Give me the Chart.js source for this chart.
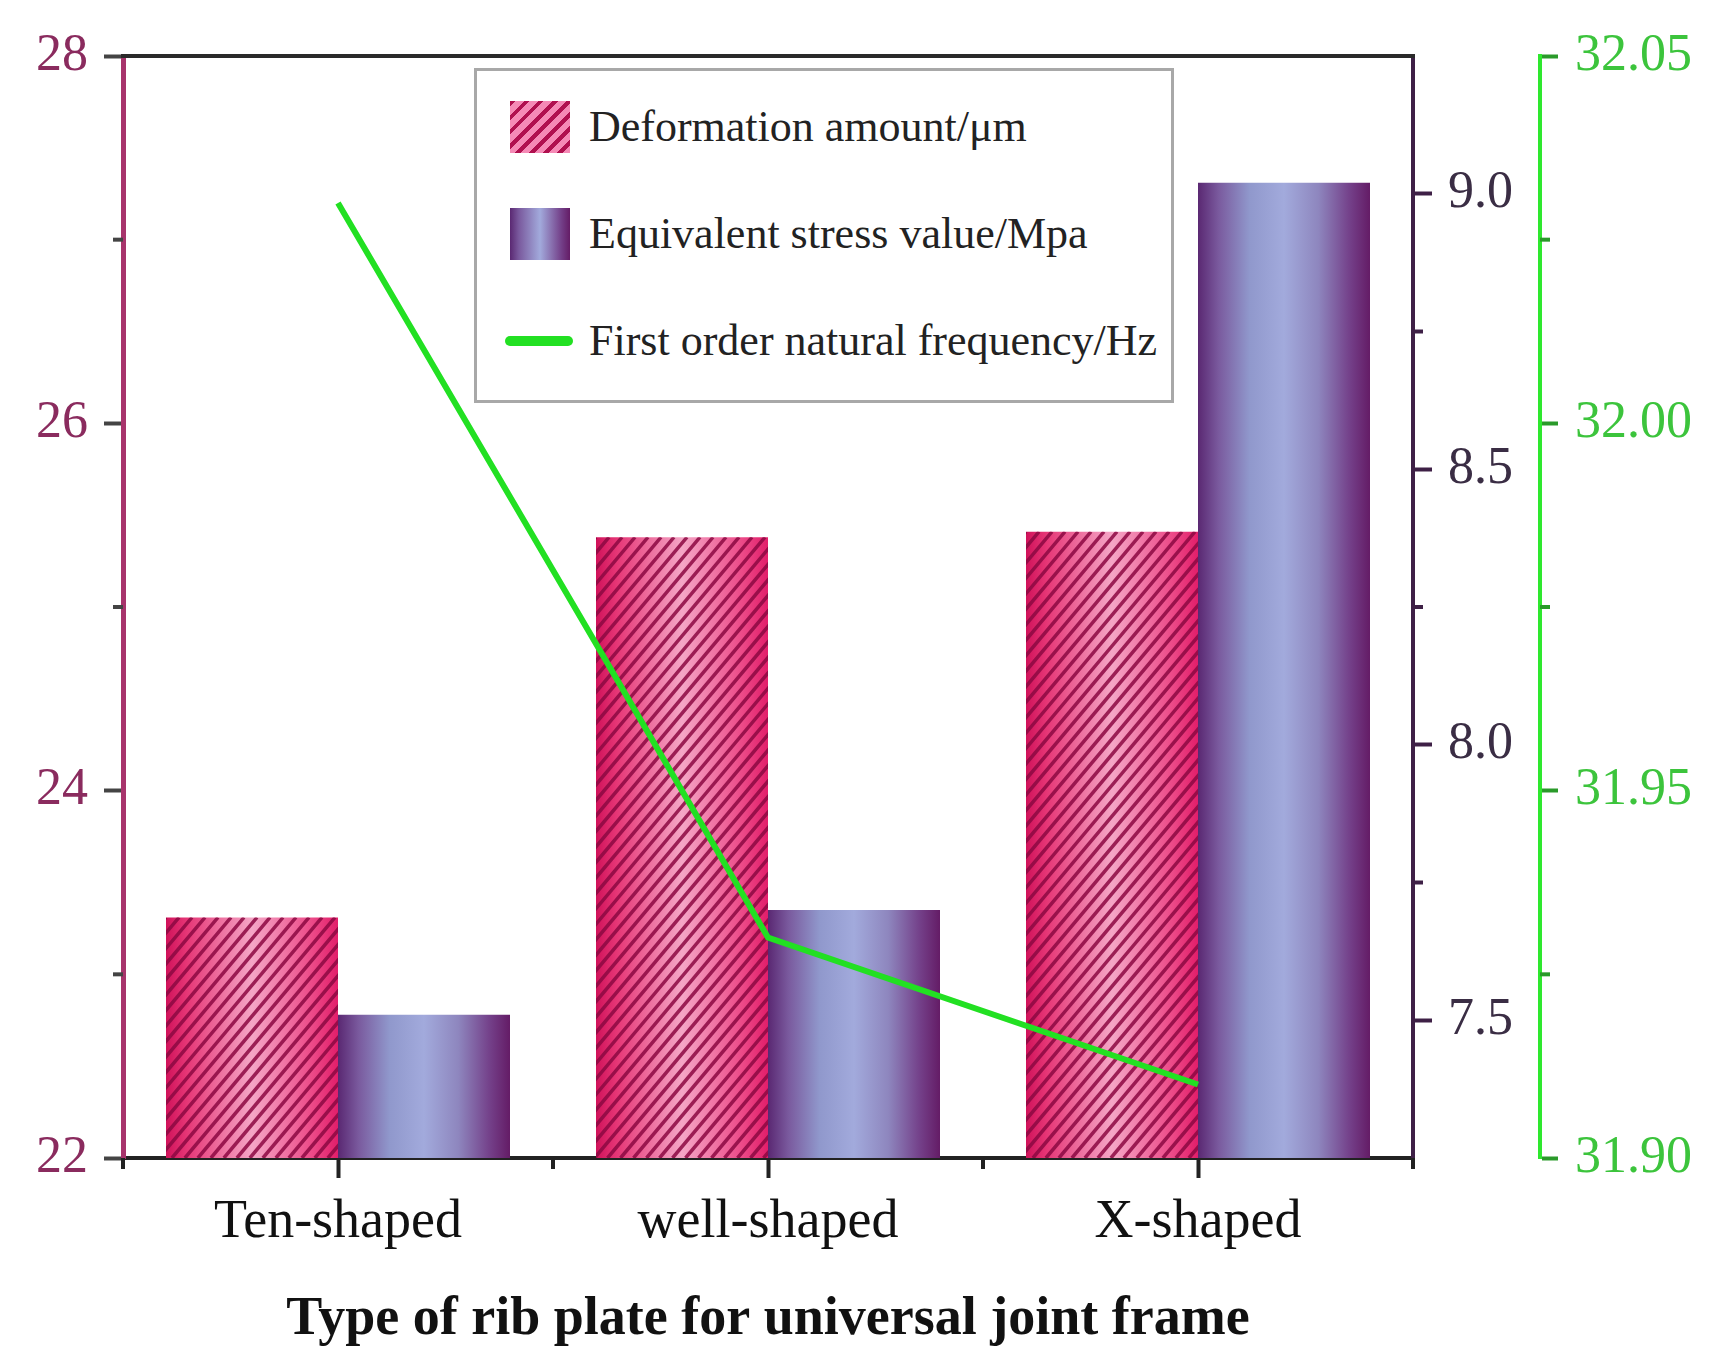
<!DOCTYPE html>
<html>
<head>
<meta charset="utf-8">
<title>Type of rib plate for universal joint frame</title>
<script src="https://cdn.jsdelivr.net/npm/chart.js@4.4.1/dist/chart.umd.min.js"></script>
<style>
  html, body { margin: 0; padding: 0; background: #fff; }
  #wrap { position: relative; width: 1720px; height: 1371px; }
  #legend {
    position: absolute; left: 474px; top: 68px; width: 694px; height: 329px;
    border: 3px solid #a8a8a8; background: #fff;
    font-family: 'Liberation Serif', 'Times New Roman', serif; font-size: 44px; color: #222;
  }
  #legend .row { position: absolute; left: 0; height: 60px; }
  #legend .sw { position: absolute; }
  #legend .txt { position: absolute; left: 112px; white-space: nowrap; line-height: 60px; }
</style>
</head>
<body>
<div id="wrap">
  <canvas id="ribChart"></canvas>
  <div id="legend"></div>
</div>
<script>
// categories and values
const categories = ['Ten-shaped', 'well-shaped', 'X-shaped'];
const seriesLabels = ['Deformation amount/\u03bcm', 'Equivalent stress value/Mpa', 'First order natural frequency/Hz'];
const deformation = [23.31, 25.38, 25.41];   // left axis, µm
const stress = [7.51, 7.70, 9.02];           // right axis, MPa
const frequency = [32.03, 31.93, 31.91];     // far right axis, Hz

// axis tick values
const leftTicks = [22, 24, 26, 28];
const leftMinor = [23, 25, 27];
const stressTicks = [7.5, 8.0, 8.5, 9.0];
const stressMinor = [7.75, 8.25, 8.75];
const freqTicks = [31.90, 31.95, 32.00, 32.05];
const freqMinor = [31.925, 31.975, 32.025];
const xMinor = [-0.5, 0.5, 1.5, 2.5];

const CAT_PCT = 0.8;
const SERIF = "'Liberation Serif', 'Times New Roman', serif";
const PINK_STOPS = [[0, '#d0125a'], [0.12, '#e63676'], [0.5, '#f5a6c6'], [0.85, '#ec4a88'], [1, '#e21e6a']];
const PURPLE_STOPS = [[0, '#5a2872'], [0.12, '#7a5a9e'], [0.3, '#9098cc'], [0.5, '#a2aadc'], [0.7, '#8e86be'], [0.88, '#74418a'], [1, '#641c66']];
const LEFT_COL = '#a8346c';
const RIGHT_COL = '#3e2046';
const GREEN_COL = '#22e022';

Chart.defaults.font.family = SERIF;

// horizontal gradient across one bar, from the category scale
function barGradient(context, stops) {
  const chart = context.chart;
  const xs = chart.scales.x;
  if (!chart.chartArea || !xs) return stops[2][1];
  const step = xs.getPixelForValue(1) - xs.getPixelForValue(0);
  if (!isFinite(step) || step <= 0) return stops[2][1];
  const w = step * CAT_PCT / 2;
  const c = xs.getPixelForValue(context.dataIndex);
  const left = context.datasetIndex === 0 ? c - w : c;
  const g = chart.ctx.createLinearGradient(left, 0, left + w, 0);
  stops.forEach(([o, col]) => g.addColorStop(o, col));
  return g;
}

// diagonal hatching over the deformation bars
const hatchPlugin = {
  id: 'hatch',
  afterDatasetDraw(chart, args) {
    if (args.index !== 0) return;
    const ctx = chart.ctx;
    const bottom = chart.scales.y.getPixelForValue(chart.scales.y.min);
    args.meta.data.forEach(bar => {
      const p = bar.getProps(['x', 'y', 'width'], true);
      const left = p.x - p.width / 2;
      const top = p.y;
      const h = bottom - top;
      const run = h * 0.84;
      ctx.save();
      ctx.beginPath();
      ctx.rect(left, top, p.width, h);
      ctx.clip();
      ctx.strokeStyle = 'rgba(140, 8, 66, 0.85)';
      ctx.lineWidth = 3.5;
      ctx.beginPath();
      for (let s = -run; s < p.width + 13; s += 13) {
        ctx.moveTo(left + s, top + h);
        ctx.lineTo(left + s + run, top);
      }
      ctx.stroke();
      ctx.restore();
    });
  }
};

// minor ticks + top frame line
const framePlugin = {
  id: 'frame',
  afterDraw(chart) {
    const ctx = chart.ctx;
    const a = chart.chartArea;
    const s = chart.scales;
    ctx.save();
    ctx.lineWidth = 4;
    const yMinor = [
      [s.y, leftMinor, a.left, -1, '#444'],
      [s.y1, stressMinor, s.y1.left, 1, RIGHT_COL],
      [s.y2, freqMinor, s.y2.left, 1, '#2a9a2a']
    ];
    yMinor.forEach(([sc, vals, x0, dir, col]) => {
      ctx.strokeStyle = col;
      vals.forEach(v => {
        const y = sc.getPixelForValue(v);
        ctx.beginPath();
        ctx.moveTo(x0, y);
        ctx.lineTo(x0 + dir * 10, y);
        ctx.stroke();
      });
    });
    ctx.strokeStyle = '#222';
    xMinor.forEach(v => {
      const x = s.x.getPixelForValue(v);
      ctx.beginPath();
      ctx.moveTo(x, a.bottom);
      ctx.lineTo(x, a.bottom + 11);
      ctx.stroke();
    });
    ctx.strokeStyle = '#2a2a2a';
    ctx.beginPath();
    ctx.moveTo(a.left - 2, a.top);
    ctx.lineTo(s.y1.left + 2, a.top);
    ctx.stroke();
    ctx.restore();
  }
};

function fixedTicks(values) {
  return scale => { scale.ticks = values.map(v => ({ value: v })); };
}

const chart = new Chart(document.getElementById('ribChart'), {
  type: 'bar',
  data: {
    labels: categories,
    datasets: [
      {
        label: seriesLabels[0],
        data: deformation,
        yAxisID: 'y',
        backgroundColor: c => barGradient(c, PINK_STOPS),
        borderWidth: 0,
        categoryPercentage: CAT_PCT,
        barPercentage: 1.0,
        order: 1
      },
      {
        label: seriesLabels[1],
        data: stress,
        yAxisID: 'y1',
        backgroundColor: c => barGradient(c, PURPLE_STOPS),
        borderWidth: 0,
        categoryPercentage: CAT_PCT,
        barPercentage: 1.0,
        order: 2
      },
      {
        type: 'line',
        label: seriesLabels[2],
        data: frequency,
        yAxisID: 'y2',
        borderColor: GREEN_COL,
        borderWidth: 6,
        pointRadius: 0,
        tension: 0,
        order: 0
      }
    ]
  },
  options: {
    responsive: true,
    maintainAspectRatio: false,
    animation: false,
    layout: { padding: { top: 56, left: 0, right: 0, bottom: 0 } },
    plugins: { legend: { display: false }, tooltip: { enabled: false } },
    scales: {
      x: {
        offset: true,
        grid: { display: true, drawOnChartArea: false, offset: false, tickLength: 20, tickWidth: 4, tickColor: '#222' },
        border: { display: true, color: '#222', width: 4 },
        ticks: { color: '#111', font: { size: 54, family: SERIF }, padding: 12, maxRotation: 0 },
        title: {
          display: true,
          text: 'Type of rib plate for universal joint frame',
          color: '#111',
          font: { size: 54, weight: 'bold', family: SERIF },
          padding: { top: 0, bottom: 19 }
        },
        afterFit: s => { s.height = 213; }
      },
      y: {
        position: 'left',
        min: 22, max: 28,
        afterBuildTicks: fixedTicks(leftTicks),
        grid: { drawOnChartArea: false, tickLength: 19, tickWidth: 4, tickColor: '#444' },
        border: { display: true, color: LEFT_COL, width: 5 },
        ticks: { color: '#8a2b5e', font: { size: 52, family: SERIF }, padding: 16 },
        afterFit: s => { s.width = 123; }
      },
      y1: {
        position: 'right',
        min: 7.25, max: 9.25,
        afterBuildTicks: fixedTicks(stressTicks),
        grid: { drawOnChartArea: false, tickLength: 19, tickWidth: 4, tickColor: RIGHT_COL },
        border: { display: true, color: RIGHT_COL, width: 4 },
        ticks: { color: '#3a2d44', font: { size: 52, family: SERIF }, padding: 16, callback: v => Number(v).toFixed(1) },
        afterFit: s => { s.width = 127; }
      },
      y2: {
        position: 'right',
        min: 31.90, max: 32.05,
        afterBuildTicks: fixedTicks(freqTicks),
        grid: { drawOnChartArea: false, tickLength: 18, tickWidth: 4, tickColor: '#2a9a2a' },
        border: { display: true, color: '#2ee82e', width: 4 },
        ticks: { color: '#3cc43c', font: { size: 52, family: SERIF }, padding: 17, callback: v => Number(v).toFixed(2) },
        afterFit: s => { s.width = 180; }
      }
    }
  },
  plugins: [hatchPlugin, framePlugin]
});

// legend box built from the dataset labels
const legendEl = document.getElementById('legend');
const swatches = [
  'left:33px; top:2px; width:60px; height:52px; background: repeating-linear-gradient(135deg, #b0104f 0 4px, #f58ab6 4px 10px);',
  'left:33px; top:2px; width:60px; height:52px; background: linear-gradient(to right, #5a2872, #7a5a9e 15%, #a2aadc 50%, #74418a 85%, #641c66);',
  'left:28px; top:23px; width:68px; height:10px; border-radius:5px; background:' + GREEN_COL + ';'
];
const rowTops = [28, 135, 242];
seriesLabels.forEach((lab, i) => {
  const row = document.createElement('div');
  row.className = 'row';
  row.style.top = rowTops[i] + 'px';
  row.innerHTML = '<div class="sw" style="' + swatches[i] + '"></div><div class="txt" style="top:-2px">' + lab + '</div>';
  legendEl.appendChild(row);
});
</script>
</body>
</html>
